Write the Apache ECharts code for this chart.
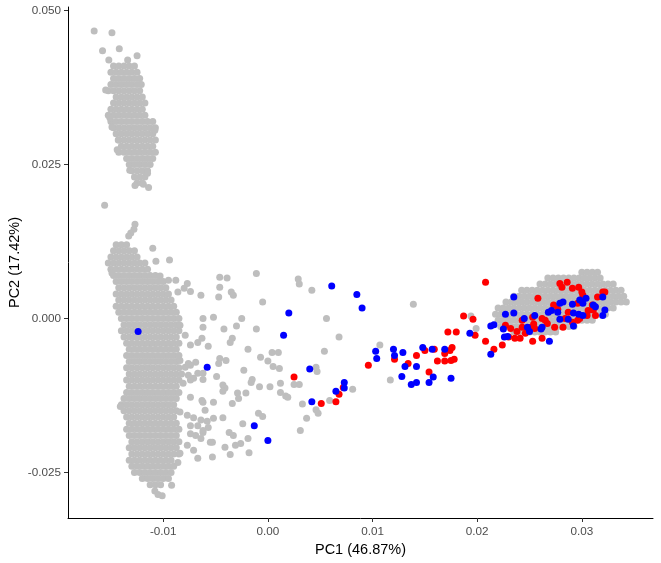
<!DOCTYPE html>
<html>
<head>
<meta charset="utf-8">
<title>PCA</title>
<script src="https://cdn.jsdelivr.net/npm/echarts@6.0.0/dist/echarts.min.js"></script>
<style>
  html, body { margin: 0; padding: 0; background: #fff; }
  #main { width: 661px; height: 563px; }
</style>
</head>
<body>
<div id="main"></div>
<script>
// tick labels
const xTicks = [-0.01, 0, 0.01, 0.02, 0.03];
const yTicks = [-0.025, 0, 0.025, 0.05];

// dense grey clusters, one row per PC2 value: [pc2, pc1, pc1, ...]
const greyTopRows = [
  [0.041, -0.01475, -0.01425, -0.01375, -0.01325, -0.01275],
  [0.040, -0.0150, -0.0145, -0.0140, -0.0135, -0.0130, -0.0125],
  [0.039, -0.01475, -0.01425, -0.01375, -0.01325, -0.01275, -0.01225],
  [0.038, -0.0150, -0.0145, -0.0140, -0.0135, -0.0130, -0.0125, -0.0121],
  [0.037, -0.01525, -0.01475, -0.01425, -0.01375, -0.01325, -0.01275, -0.01225],
  [0.036, -0.0145, -0.0140, -0.0135, -0.0130, -0.0125, -0.0120],
  [0.035, -0.01475, -0.01425, -0.01375, -0.01325, -0.01275, -0.01225, -0.01175],
  [0.034, -0.0150, -0.0145, -0.0140, -0.0135, -0.0130, -0.0125, -0.0120],
  [0.033, -0.01525, -0.01475, -0.01425, -0.01375, -0.01325, -0.01275, -0.01225, -0.01175],
  [0.032, -0.0150, -0.0145, -0.0140, -0.0135, -0.0130, -0.0125, -0.0120, -0.0115, -0.0110],
  [0.031, -0.01475, -0.01425, -0.01375, -0.01325, -0.01275, -0.01225, -0.01175, -0.01125, -0.01075],
  [0.030, -0.0145, -0.0140, -0.0135, -0.0130, -0.0125, -0.0120, -0.0115, -0.0110],
  [0.029, -0.01425, -0.01375, -0.01325, -0.01275, -0.01225, -0.01175, -0.01125, -0.01075],
  [0.028, -0.0140, -0.0135, -0.0130, -0.0125, -0.0120, -0.0115, -0.0110],
  [0.027, -0.01425, -0.01375, -0.01325, -0.01275, -0.01225, -0.01175, -0.01125, -0.01075],
  [0.026, -0.0135, -0.0130, -0.0125, -0.0120, -0.0115, -0.0110],
  [0.025, -0.01325, -0.01275, -0.01225, -0.01175, -0.01125],
  [0.024, -0.0130, -0.0125, -0.0120, -0.0115],
  [0.023, -0.01275, -0.01225, -0.01175],
  [0.022, -0.0125, -0.0120]
];

const greyLeftRows = [
  [0.012, -0.0145, -0.0140, -0.0135],
  [0.011, -0.01475, -0.01425, -0.01375, -0.01325, -0.01275],
  [0.010, -0.0150, -0.0145, -0.0140, -0.0135, -0.0130, -0.0125],
  [0.009, -0.01525, -0.01475, -0.01425, -0.01375, -0.01325, -0.01275, -0.01225, -0.01175],
  [0.008, -0.0150, -0.0145, -0.0140, -0.0135, -0.0130, -0.0125, -0.0120, -0.0115],
  [0.007, -0.01475, -0.01425, -0.01375, -0.01325, -0.01275, -0.01225, -0.01175, -0.01125, -0.01075],
  [0.006, -0.0145, -0.0140, -0.0135, -0.0130, -0.0125, -0.0120, -0.0115, -0.0110, -0.0105, -0.0100],
  [0.005, -0.01425, -0.01375, -0.01325, -0.01275, -0.01225, -0.01175, -0.01125, -0.01075, -0.01025, -0.00975],
  [0.004, -0.0145, -0.0140, -0.0135, -0.0130, -0.0125, -0.0120, -0.0115, -0.0110, -0.0105, -0.0100, -0.0095],
  [0.003, -0.01425, -0.01375, -0.01325, -0.01275, -0.01225, -0.01175, -0.01125, -0.01075, -0.01025, -0.00975, -0.00925],
  [0.002, -0.0145, -0.0140, -0.0135, -0.0130, -0.0125, -0.0120, -0.0115, -0.0110, -0.0105, -0.0100, -0.0095, -0.0090],
  [0.001, -0.01425, -0.01375, -0.01325, -0.01275, -0.01225, -0.01175, -0.01125, -0.01075, -0.01025, -0.00975, -0.00925, -0.00875],
  [0.000, -0.0140, -0.0135, -0.0130, -0.0125, -0.0120, -0.0115, -0.0110, -0.0105, -0.0100, -0.0095, -0.0090, -0.0085],
  [-0.001, -0.01375, -0.01325, -0.01275, -0.01225, -0.01175, -0.01125, -0.01075, -0.01025, -0.00975, -0.00925, -0.00875],
  [-0.002, -0.0140, -0.0135, -0.0130, -0.0125, -0.0120, -0.0115, -0.0110, -0.0105, -0.0100, -0.0095, -0.0090, -0.0085],
  [-0.003, -0.01375, -0.01325, -0.01275, -0.01225, -0.01175, -0.01125, -0.01075, -0.01025, -0.00975, -0.00925, -0.00875],
  [-0.004, -0.0135, -0.0130, -0.0125, -0.0120, -0.0115, -0.0110, -0.0105, -0.0100, -0.0095, -0.0090, -0.0085],
  [-0.005, -0.01325, -0.01275, -0.01225, -0.01175, -0.01125, -0.01075, -0.01025, -0.00975, -0.00925, -0.00875],
  [-0.006, -0.0135, -0.0130, -0.0125, -0.0120, -0.0115, -0.0110, -0.0105, -0.0100, -0.0095, -0.0090, -0.0085],
  [-0.007, -0.01325, -0.01275, -0.01225, -0.01175, -0.01125, -0.01075, -0.01025, -0.00975, -0.00925, -0.00875],
  [-0.008, -0.0135, -0.0130, -0.0125, -0.0120, -0.0115, -0.0110, -0.0105, -0.0100, -0.0095, -0.0090, -0.0085],
  [-0.009, -0.01325, -0.01275, -0.01225, -0.01175, -0.01125, -0.01075, -0.01025, -0.00975, -0.00925, -0.00875, -0.00825],
  [-0.010, -0.0135, -0.0130, -0.0125, -0.0120, -0.0115, -0.0110, -0.0105, -0.0100, -0.0095, -0.0090, -0.0085],
  [-0.011, -0.01325, -0.01275, -0.01225, -0.01175, -0.01125, -0.01075, -0.01025, -0.00975, -0.00925, -0.00875],
  [-0.012, -0.0135, -0.0130, -0.0125, -0.0120, -0.0115, -0.0110, -0.0105, -0.0100, -0.0095, -0.0090, -0.0085],
  [-0.013, -0.01375, -0.01325, -0.01275, -0.01225, -0.01175, -0.01125, -0.01075, -0.01025, -0.00975, -0.00925, -0.00875],
  [-0.014, -0.0140, -0.0135, -0.0130, -0.0125, -0.0120, -0.0115, -0.0110, -0.0105, -0.0100, -0.0095, -0.0090],
  [-0.015, -0.01375, -0.01325, -0.01275, -0.01225, -0.01175, -0.01125, -0.01075, -0.01025, -0.00975, -0.00925, -0.00875],
  [-0.016, -0.0135, -0.0130, -0.0125, -0.0120, -0.0115, -0.0110, -0.0105, -0.0100, -0.0095, -0.0090],
  [-0.017, -0.01325, -0.01275, -0.01225, -0.01175, -0.01125, -0.01075, -0.01025, -0.00975, -0.00925, -0.00875],
  [-0.018, -0.0135, -0.0130, -0.0125, -0.0120, -0.0115, -0.0110, -0.0105, -0.0100, -0.0095, -0.0090, -0.0085],
  [-0.019, -0.01325, -0.01275, -0.01225, -0.01175, -0.01125, -0.01075, -0.01025, -0.00975, -0.00925, -0.00875],
  [-0.020, -0.0130, -0.0125, -0.0120, -0.0115, -0.0110, -0.0105, -0.0100, -0.0095, -0.0090, -0.0085],
  [-0.021, -0.01325, -0.01275, -0.01225, -0.01175, -0.01125, -0.01075, -0.01025, -0.00975, -0.00925, -0.00875],
  [-0.022, -0.0130, -0.0125, -0.0120, -0.0115, -0.0110, -0.0105, -0.0100, -0.0095, -0.0090, -0.0085],
  [-0.023, -0.01325, -0.01275, -0.01225, -0.01175, -0.01125, -0.01075, -0.01025, -0.00975, -0.00925],
  [-0.024, -0.0130, -0.0125, -0.0120, -0.0115, -0.0110, -0.0105, -0.0100, -0.0095, -0.0090],
  [-0.025, -0.01275, -0.01225, -0.01175, -0.01125, -0.01075, -0.01025, -0.00975, -0.00925],
  [-0.026, -0.0120, -0.0115, -0.0110, -0.0105, -0.0100, -0.0095],
  [-0.027, -0.01125, -0.01075, -0.01025]
];

const greyRightRows = [
  [0.0075, 0.0300, 0.0305, 0.0310, 0.0315],
  [0.0066, 0.02675, 0.02725, 0.02775, 0.02825, 0.02875, 0.02925, 0.02975, 0.03025, 0.03075, 0.03125, 0.03175],
  [0.0056, 0.0260, 0.0265, 0.0270, 0.0275, 0.0280, 0.0285, 0.0290, 0.0295, 0.0300, 0.0305, 0.0310, 0.0315, 0.0320, 0.0325, 0.0330],
  [0.0046, 0.02425, 0.02475, 0.02525, 0.02575, 0.02625, 0.02675, 0.02725, 0.02775, 0.02825, 0.02875, 0.02925, 0.02975, 0.03025, 0.03075, 0.03125, 0.03175, 0.03225, 0.03275, 0.03325, 0.03375],
  [0.0036, 0.0235, 0.0240, 0.0245, 0.0250, 0.0255, 0.0260, 0.0265, 0.0270, 0.0275, 0.0280, 0.0285, 0.0290, 0.0295, 0.0300, 0.0305, 0.0310, 0.0315, 0.0320, 0.0325, 0.0330, 0.0335, 0.0340],
  [0.0027, 0.02275, 0.02325, 0.02375, 0.02425, 0.02475, 0.02525, 0.02575, 0.02625, 0.02675, 0.02725, 0.02775, 0.02825, 0.02875, 0.02925, 0.02975, 0.03025, 0.03075, 0.03125, 0.03175, 0.03225, 0.03275, 0.03325, 0.03375, 0.03425],
  [0.0017, 0.0220, 0.0225, 0.0230, 0.0235, 0.0240, 0.0245, 0.0250, 0.0255, 0.0260, 0.0265, 0.0270, 0.0275, 0.0280, 0.0285, 0.0290, 0.0295, 0.0300, 0.0305, 0.0310, 0.0315, 0.0320, 0.0325, 0.0330],
  [0.0007, 0.02175, 0.02225, 0.02275, 0.02325, 0.02375, 0.02425, 0.02475, 0.02525, 0.02575, 0.02625, 0.02675, 0.02725, 0.02775, 0.02825, 0.02875, 0.02925, 0.02975, 0.03025, 0.03075, 0.03125, 0.03175, 0.03225],
  [-0.0003, 0.0220, 0.0225, 0.0230, 0.0235, 0.0240, 0.0245, 0.0250, 0.0255, 0.0260, 0.0265, 0.0270, 0.0275, 0.0280, 0.0285, 0.0290, 0.0295, 0.0300, 0.0305, 0.0310],
  [-0.0013, 0.02225, 0.02275, 0.02325, 0.02375, 0.02425, 0.02475, 0.02525, 0.02575, 0.02625, 0.02675, 0.02725, 0.02775, 0.02825, 0.02875, 0.02925],
  [-0.0022, 0.0235, 0.0240, 0.0245, 0.0250, 0.0255, 0.0260, 0.0265, 0.0270, 0.0275]
];

// loose grey samples [pc1, pc2]
const greyLoose = [
  [-0.0166, 0.0467], [-0.0149, 0.0464], [-0.0158, 0.0435], [-0.0142, 0.0438], [-0.0152, 0.0420], [-0.0125, 0.0427], [-0.0134, 0.0420],
  [-0.0155, 0.0371], [-0.0151, 0.0326], [-0.0149, 0.0311], [-0.0143, 0.0290], [-0.0144, 0.0274], [-0.0108, 0.0306], [-0.0132, 0.0241], [-0.0115, 0.0236],
  [-0.0127, 0.0216], [-0.0119, 0.0218], [-0.0114, 0.0213],
  [-0.0156, 0.0184], [-0.0127, 0.0153], [-0.0128, 0.0145], [-0.0131, 0.0139], [-0.0133, 0.0134],
  [-0.0110, 0.0114], [-0.0107, 0.0093], [-0.0094, 0.0095], [-0.0149, 0.0074], [-0.0103, 0.0069], [-0.0095, 0.0062], [-0.0088, 0.0062],
  [-0.0077, 0.0057], [-0.0080, 0.0049], [-0.0074, 0.0044], [-0.0064, 0.0038], [-0.0086, 0.0043],
  [-0.0046, 0.0067], [-0.0046, 0.0051], [-0.0047, 0.0035], [-0.0052, 0.0002], [-0.0062, 0.0000], [-0.0062, -0.0014], [-0.0063, -0.0032], [-0.0067, -0.0039], [-0.0057, -0.0045],
  [-0.0084, -0.0011], [-0.0079, -0.0027], [-0.0074, -0.0043],
  [-0.0011, 0.0073], [-0.0039, 0.0066], [-0.0035, 0.0043], [-0.0033, 0.0038], [-0.0005, 0.0027], [0.0029, 0.0064], [0.0030, 0.0056], [0.0042, 0.0046],
  [-0.0025, 0.0000], [-0.0030, -0.0012], [-0.0042, -0.0017], [-0.0011, -0.0017], [-0.0034, -0.0032], [-0.0036, -0.0039], [-0.0019, -0.0050],
  [0.0004, -0.0055], [0.0010, -0.0055], [-0.0007, -0.0063], [0.0000, -0.0069], [0.0005, -0.0078], [0.0011, -0.0081],
  [-0.0046, -0.0065], [-0.0040, -0.0068], [-0.0047, -0.0073], [-0.0069, -0.0071], [-0.0074, -0.0076], [-0.0079, -0.0079],
  [-0.0023, -0.0084], [-0.0049, -0.0094], [-0.0062, -0.0089], [-0.0067, -0.0089], [-0.0071, -0.0097], [-0.0076, -0.0092],
  [-0.0015, -0.0099], [-0.0016, -0.0104], [0.0012, -0.0105], [-0.0008, -0.0111], [0.0002, -0.0111],
  [-0.0043, -0.0108], [-0.0041, -0.0113], [-0.0043, -0.0118], [-0.0021, -0.0121], [0.0012, -0.0120], [-0.0074, -0.0128], [-0.0029, -0.0121], [-0.0028, -0.0130],
  [0.0017, -0.0126], [0.0019, -0.0128], [-0.0034, -0.0138], [-0.0052, -0.0136], [-0.0062, -0.0136], [0.0033, -0.0139],
  [-0.0009, -0.0154], [-0.0005, -0.0159], [-0.0043, -0.0161], [-0.0052, -0.0162], [-0.0058, -0.0167], [-0.0067, -0.0174],
  [-0.0037, -0.0185], [-0.0033, -0.0190], [-0.0024, -0.0171], [-0.0069, -0.0190], [-0.0062, -0.0185], [-0.0053, -0.0201],
  [-0.0019, -0.0195], [-0.0026, -0.0203], [-0.0031, -0.0206], [-0.0041, -0.0209], [-0.0018, -0.0218], [-0.0036, -0.0221], [-0.0053, -0.0225],
  [0.0031, -0.0182], [0.0037, -0.0162], [0.0025, -0.0107], [0.0030, -0.0107], [0.0046, -0.0148], [0.0048, -0.0154], [0.0059, -0.0133],
  [0.0056, 0.0000], [0.0054, -0.0053], [0.0068, -0.0030], [0.0046, -0.0079], [0.0047, -0.0086], [0.0081, -0.0115], [0.0107, -0.0043], [0.0117, -0.0100],
  [0.0139, 0.0023], [0.0194, 0.0004], [0.0199, -0.0016],
  [-0.0084, -0.0068], [-0.0076, -0.0073], [-0.0062, -0.0099], [-0.0074, -0.0100], [-0.0081, -0.0105], [-0.0063, -0.0133],
  [-0.0060, -0.0149], [-0.0084, -0.0152], [-0.0077, -0.0157], [-0.0071, -0.0161], [-0.0064, -0.0165], [-0.0074, -0.0174], [-0.0057, -0.0177],
  [-0.0062, -0.0182], [-0.0074, -0.0187], [-0.0064, -0.0195], [-0.0055, -0.0201], [-0.0077, -0.0206], [-0.0071, -0.0214], [-0.0067, -0.0227],
  [-0.0084, -0.0219], [-0.0086, -0.0234],
  [-0.0092, -0.0271], [-0.0105, -0.0286], [-0.0101, -0.0288], [-0.0108, -0.0280], [-0.0141, -0.0143]
];

const redPoints = [
  [0.0025, -0.0095], [0.0051, -0.0138], [0.0065, -0.0135], [0.0068, -0.0123], [0.0072, -0.0112], [0.0096, -0.0076], [0.0121, -0.0066],
  [0.0134, -0.0073], [0.0142, -0.0060], [0.0150, -0.0052], [0.0159, -0.0050], [0.0154, -0.0087], [0.0162, -0.0069], [0.0169, -0.0069],
  [0.0175, -0.0068], [0.0178, -0.0066], [0.0169, -0.0057], [0.0174, -0.0052], [0.0176, -0.0047], [0.0172, -0.0022], [0.0180, -0.0022],
  [0.0187, 0.0004], [0.0196, -0.0001], [0.0198, -0.0027], [0.0208, 0.0059],
  [0.0224, -0.0043], [0.0216, -0.0050], [0.0208, -0.0037], [0.0230, -0.0030], [0.0236, -0.0032], [0.0241, -0.0032], [0.0246, -0.0024], [0.0253, -0.0037], [0.0262, -0.0032],
  [0.0227, -0.0011], [0.0232, -0.0016], [0.0238, -0.0021], [0.0243, -0.0014], [0.0251, -0.0014], [0.0255, -0.0016], [0.0254, -0.0009], [0.0267, -0.0008], [0.0274, -0.0014], [0.0282, -0.0014],
  [0.0258, 0.0033], [0.0279, 0.0057], [0.0286, 0.0059], [0.0281, 0.0051], [0.0291, 0.0049], [0.0297, 0.0051], [0.0300, 0.0043], [0.0301, 0.0038], [0.0296, 0.0025],
  [0.0310, 0.0022], [0.0311, 0.0014], [0.0313, 0.0005], [0.0320, 0.0043], [0.0322, 0.0043], [0.0315, 0.0035], [0.0273, 0.0022], [0.0277, 0.0015],
  [0.0284, 0.0000], [0.0291, -0.0006], [0.0296, -0.0003], [0.0298, 0.0000], [0.0305, 0.0005], [0.0287, 0.0010], [0.0306, 0.0013], [0.0265, -0.0003],
  [0.0243, -0.0003], [0.0253, 0.0002], [0.0262, 0.0000]
];

const bluePoints = [
  [-0.0124, -0.0021], [-0.0058, -0.0079], [0.0020, 0.0009], [0.0015, -0.0027], [0.0061, 0.0053], [0.0085, 0.0039], [0.0090, 0.0017],
  [0.0040, -0.0082], [0.0073, -0.0104], [0.0073, -0.0113], [0.0065, -0.0118], [0.0042, -0.0135], [-0.0013, -0.0174], [0.0000, -0.0198],
  [0.0103, -0.0053], [0.0104, -0.0065], [0.0120, -0.0050], [0.0121, -0.0060], [0.0129, -0.0055], [0.0148, -0.0047], [0.0157, -0.0050], [0.0169, -0.0050],
  [0.0131, -0.0078], [0.0142, -0.0078], [0.0128, -0.0094], [0.0158, -0.0095], [0.0154, -0.0104], [0.0142, -0.0104], [0.0137, -0.0107], [0.0175, -0.0097],
  [0.0193, -0.0024],
  [0.0235, 0.0035], [0.0227, 0.0007], [0.0235, 0.0009], [0.0213, -0.0012], [0.0216, -0.0010], [0.0225, -0.0017], [0.0226, -0.0030], [0.0229, -0.0029],
  [0.0245, 0.0000], [0.0255, 0.0005], [0.0248, -0.0014], [0.0250, -0.0021], [0.0262, -0.0014], [0.0261, -0.0017], [0.0269, -0.0037], [0.0213, -0.0058],
  [0.0268, 0.0010], [0.0271, 0.0013], [0.0277, 0.0010], [0.0279, 0.0025], [0.0282, 0.0027], [0.0291, 0.0023], [0.0298, 0.0030], [0.0304, 0.0033],
  [0.0301, 0.0025], [0.0311, 0.0022], [0.0313, 0.0019], [0.0320, 0.0035], [0.0322, 0.0014], [0.0320, 0.0005], [0.0292, 0.0009], [0.0297, 0.0007],
  [0.0279, -0.0001], [0.0287, -0.0001], [0.0292, -0.0012], [0.0301, 0.0005]
];

function rowsToPoints(rows) {
  const pts = [];
  rows.forEach(function (r) {
    for (let i = 1; i < r.length; i++) pts.push([r[i], r[0]]);
  });
  return pts;
}

const greyPoints = rowsToPoints(greyTopRows)
  .concat(rowsToPoints(greyLeftRows))
  .concat(rowsToPoints(greyRightRows))
  .concat(greyLoose);

const font = '"Liberation Sans", Arial, sans-serif';

function pointSeries(data, color) {
  return {
    type: 'scatter',
    data: data,
    symbol: 'circle',
    symbolSize: 7,
    silent: true,
    itemStyle: { color: color, opacity: 1 },
    emphasis: { disabled: true }
  };
}

const chart = echarts.init(document.getElementById('main'), null, { renderer: 'canvas' });
chart.setOption({
  animation: false,
  backgroundColor: '#ffffff',
  grid: { left: 68, right: 8, top: 7, bottom: 45, containLabel: false, outerBoundsMode: 'none' },
  xAxis: {
    type: 'value',
    min: -0.0191,
    max: 0.0368,
    name: 'PC1 (46.87%)',
    nameLocation: 'middle',
    nameGap: 22,
    nameTextStyle: { color: '#000', fontSize: 14.5, fontFamily: font },
    axisLine: { show: true, onZero: false, lineStyle: { color: '#000', width: 1 } },
    axisTick: { show: true, length: 4, customValues: xTicks, lineStyle: { color: '#333', width: 1 } },
    axisLabel: {
      customValues: xTicks,
      margin: 8,
      color: '#4d4d4d',
      fontSize: 11.7,
      fontFamily: font,
      formatter: function (v) { return v.toFixed(2); }
    },
    splitLine: { show: false }
  },
  yAxis: {
    type: 'value',
    min: -0.0324,
    max: 0.0506,
    name: 'PC2 (17.42%)',
    nameLocation: 'middle',
    nameGap: 46,
    nameRotate: 90,
    nameMoveOverlap: false,
    nameTextStyle: { color: '#000', fontSize: 14.5, fontFamily: font },
    axisLine: { show: true, onZero: false, lineStyle: { color: '#000', width: 1 } },
    axisTick: { show: true, length: 4, customValues: yTicks, lineStyle: { color: '#333', width: 1 } },
    axisLabel: {
      customValues: yTicks,
      margin: 7,
      color: '#4d4d4d',
      fontSize: 11.7,
      fontFamily: font,
      formatter: function (v) { return v.toFixed(3); }
    },
    splitLine: { show: false }
  },
  series: [
    pointSeries(greyPoints, '#bebebe'),
    pointSeries(redPoints, '#ff0000'),
    pointSeries(bluePoints, '#0000ff')
  ]
});
</script>
</body>
</html>
